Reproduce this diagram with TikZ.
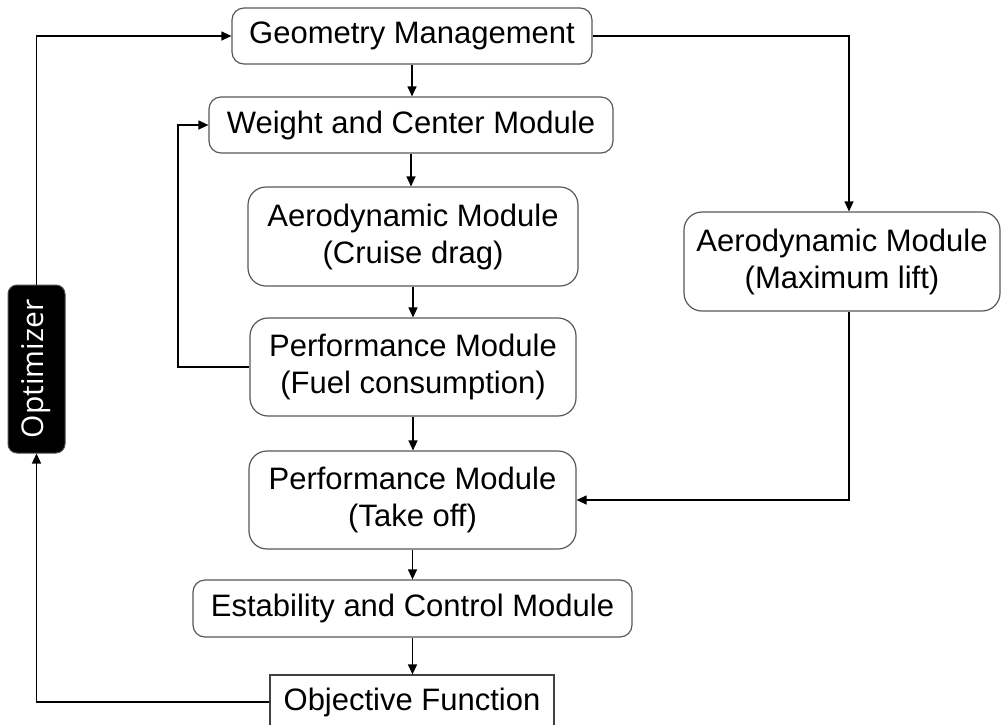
\documentclass[tikz,border=0pt]{standalone}
\usepackage{fontspec}
\setmainfont{Liberation Sans}
\newfontfamily\optfont{Open Sans}
\usetikzlibrary{arrows.meta,calc}
\tikzset{
  box/.style={draw=black!65, line width=1.2pt, rounded corners=12pt, align=center, inner sep=0pt,
    font=\fontsize{31}{37}\selectfont, text=black},
  tallbox/.style={box, rounded corners=18pt},
  sqbox/.style={draw=black!75, line width=1.2pt, align=center, inner sep=0pt,
    font=\fontsize{31}{37}\selectfont},
  optbox/.style={fill=black, draw=black!70, line width=1pt, rounded corners=9pt, inner sep=0pt,
    text=white, font=\optfont\fontsize{30}{36}\selectfont},
  conn/.style={line width=1.2pt, -{Triangle[length=10pt,width=9pt]}},
  plain/.style={line width=1.2pt}
}
\begin{document}
\begin{tikzpicture}[x=1pt,y=-1pt]
\clip (0,0) rectangle (1002,724);
\fill[white] (0,0) rectangle (1002,724);
\node[box, minimum width=360pt, minimum height=56pt] (geo) at (412,36) {Geometry Management};
\node[box, minimum width=404pt, minimum height=56pt] (wc) at (411,125) {Weight and Center Module};
\node[tallbox, minimum width=330pt, minimum height=99pt] (aero) at (413,236.5) {Aerodynamic Module\\(Cruise drag)};
\node[tallbox, minimum width=326pt, minimum height=98pt] (fuel) at (413,367) {Performance Module\\(Fuel consumption)};
\node[tallbox, minimum width=327pt, minimum height=98pt] (tko) at (412.5,500) {Performance Module\\(Take off)};
\node[box, minimum width=439pt, minimum height=57pt] (est) at (412.5,608.5) {Estability and Control Module};
\node[sqbox, minimum width=284pt, minimum height=54pt] (obj) at (412,702) {Objective Function};
\node[tallbox, minimum width=316pt, minimum height=99pt] (lift) at (842,261.5) {Aerodynamic Module\\(Maximum lift)};
\node[optbox, minimum width=168pt, minimum height=57pt, rotate=90] (opt) at (36.5,369) {Optimizer};
% main chain
\draw[conn] (geo.south) -- (geo.south |- wc.north);
\draw[conn] (wc.south) -- (wc.south |- aero.north);
\draw[conn] (aero.south) -- (aero.south |- fuel.north);
\draw[conn] (fuel.south) -- (fuel.south |- tko.north);
\draw[conn] (tko.south) -- (tko.south |- est.north);
\draw[conn] (est.south) -- (est.south |- obj.north);
% right branch
\coordinate (rx) at (849,0);
\draw[conn] (geo.east) -- (rx |- geo.east) -- (rx |- lift.north);
\draw[conn] (rx |- lift.south) -- (rx |- tko.east) -- (tko.east);
% feedback to weight
\coordinate (fx) at (178,0);
\draw[conn] (fuel.west) -- (fx |- fuel.west) -- (fx |- wc.west) -- (wc.west);
% optimizer loop
\draw[conn] (opt.east) -- (opt.east |- geo.west) -- (geo.west);
\draw[conn] (obj.west) -- (opt.west |- obj.west) -- (opt.west);
\end{tikzpicture}
\end{document}
